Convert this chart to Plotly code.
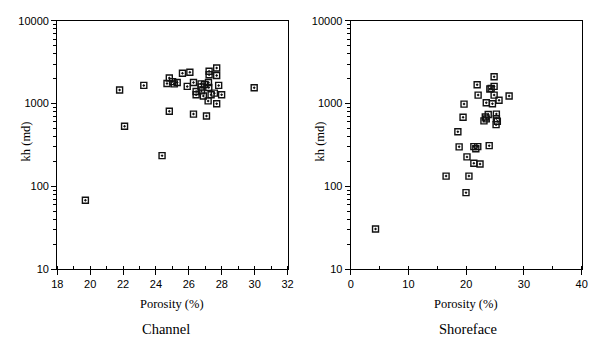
import plotly.graph_objects as go

channel_porosity = [19.71, 21.79, 22.09, 23.26, 24.37, 24.81, 24.67, 24.81, 25.01, 25.11,
                    25.29, 25.61, 26.06, 25.90, 26.28, 26.28, 26.44, 26.44, 26.74, 26.74,
                    26.76, 26.88, 26.96, 27.07, 27.17, 27.21, 27.19, 27.23, 27.23, 27.35,
                    27.55, 27.69, 27.69, 27.81, 27.69, 27.99, 29.97]
channel_kh = [68, 1460, 531, 1656, 235, 809, 1747, 2032, 1841, 1730,
              1793, 2323, 2387, 1611, 1793, 746, 1396, 1277, 1730, 1583,
              1422, 1233, 1702, 708, 1077, 1566, 1793, 2456, 2224, 1277,
              1336, 2686, 2184, 1656, 993, 1277, 1555]

shoreface_porosity = [4.30, 16.52, 19.97, 20.48, 20.14, 18.78, 18.56, 19.46, 19.63, 21.33,
                      22.40, 21.33, 22.01, 21.67, 23.99, 21.90, 22.07, 23.08, 23.48, 23.31,
                      23.82, 23.48, 24.10, 24.33, 24.55, 24.84, 24.84, 24.84, 25.23, 25.23,
                      25.40, 25.18, 25.69, 27.44]
shoreface_kh = [30.6, 133, 84, 133, 227, 300, 456, 682, 985, 190,
                186, 302, 302, 284, 310, 1687, 1265, 618, 653, 689,
                739, 1021, 1499, 1527, 993, 2108, 1611, 1265, 746, 658,
                612, 556, 1097, 1234]

y_tickvals = [10, 100, 1000, 10000]
y_ticktext = ["10", "100", "1000", "10000"]
y_minor_tickvals = [20, 30, 40, 50, 60, 70, 80, 90,
                    200, 300, 400, 500, 600, 700, 800, 900,
                    2000, 3000, 4000, 5000, 6000, 7000, 8000, 9000]

panel_titles = ["Channel", "Shoreface"]
x_title = "Porosity (%)"
y_title = "kh (md)"

W, H = 604, 343
def px_x(p): return p / W
def px_y(p): return 1 - p / H

fig = go.Figure()
marker = dict(symbol="square-open-dot", size=6, color="#111111", line=dict(width=1.4, color="#111111"))
fig.add_trace(go.Scatter(x=channel_porosity, y=channel_kh, mode="markers", marker=marker,
                         xaxis="x", yaxis="y", showlegend=False))
fig.add_trace(go.Scatter(x=shoreface_porosity, y=shoreface_kh, mode="markers", marker=marker,
                         xaxis="x2", yaxis="y2", showlegend=False))

tickfont = dict(family="Liberation Sans, Arial, sans-serif", size=11, color="black")
serif = "Liberation Serif, Times New Roman, serif"

ydom = [px_y(272.7), px_y(15.3)]
common_x = dict(showgrid=False, zeroline=False, showline=True, linecolor="black", linewidth=1.2,
                mirror=True, ticks="outside", ticklen=5, tickcolor="black", tickwidth=1,
                tickfont=tickfont)
common_y = dict(type="log", range=[1, 4], showgrid=False, zeroline=False, showline=True,
                linecolor="black", linewidth=1.2, mirror=True, ticks="outside", ticklen=5,
                tickcolor="black", tickwidth=1, tickmode="array",
                tickvals=y_tickvals, ticktext=y_ticktext, tickfont=tickfont,
                minor=dict(ticks="outside", ticklen=3, tickcolor="black", showgrid=False,
                           tickmode="array", tickvals=y_minor_tickvals))

fig.update_layout(
    width=W, height=H, margin=dict(l=0, r=0, t=0, b=0),
    paper_bgcolor="white", plot_bgcolor="white",
    xaxis=dict(domain=[px_x(52.3), px_x(287.3)], range=[18, 32], dtick=2, tick0=18,
               minor=dict(dtick=1, ticks="inside", ticklen=3, tickcolor="black"),
               anchor="y", **common_x),
    yaxis=dict(domain=ydom, anchor="x", **common_y),
    xaxis2=dict(domain=[px_x(351.7), px_x(587.3)], range=[0, 40], dtick=10, tick0=0,
                minor=dict(dtick=5, ticks="inside", ticklen=3, tickcolor="black"),
                anchor="y2", **common_x),
    yaxis2=dict(domain=ydom, anchor="x2", **common_y),
)

annots = []
for cx, ycx in [(169.8, 20.7), (469.5, 320.7)]:
    annots.append(dict(x=px_x(cx), y=px_y(309), xref="paper", yref="paper", text=x_title,
                       showarrow=False, font=dict(family=serif, size=12.5, color="black"),
                       xanchor="center", yanchor="middle"))
    annots.append(dict(x=px_x(ycx), y=px_y(140), xref="paper", yref="paper", text=y_title,
                       showarrow=False, textangle=-90,
                       font=dict(family=serif, size=12.5, color="black"),
                       xanchor="center", yanchor="middle"))
annots.append(dict(x=px_x(163.5), y=px_y(335), xref="paper", yref="paper", text=panel_titles[0],
                   showarrow=False, font=dict(family=serif, size=14.5, color="black"),
                   xanchor="center", yanchor="middle"))
annots.append(dict(x=px_x(471.5), y=px_y(335), xref="paper", yref="paper", text=panel_titles[1],
                   showarrow=False, font=dict(family=serif, size=14.5, color="black"),
                   xanchor="center", yanchor="middle"))
fig.update_layout(annotations=annots)

fig.write_html("out.html")
